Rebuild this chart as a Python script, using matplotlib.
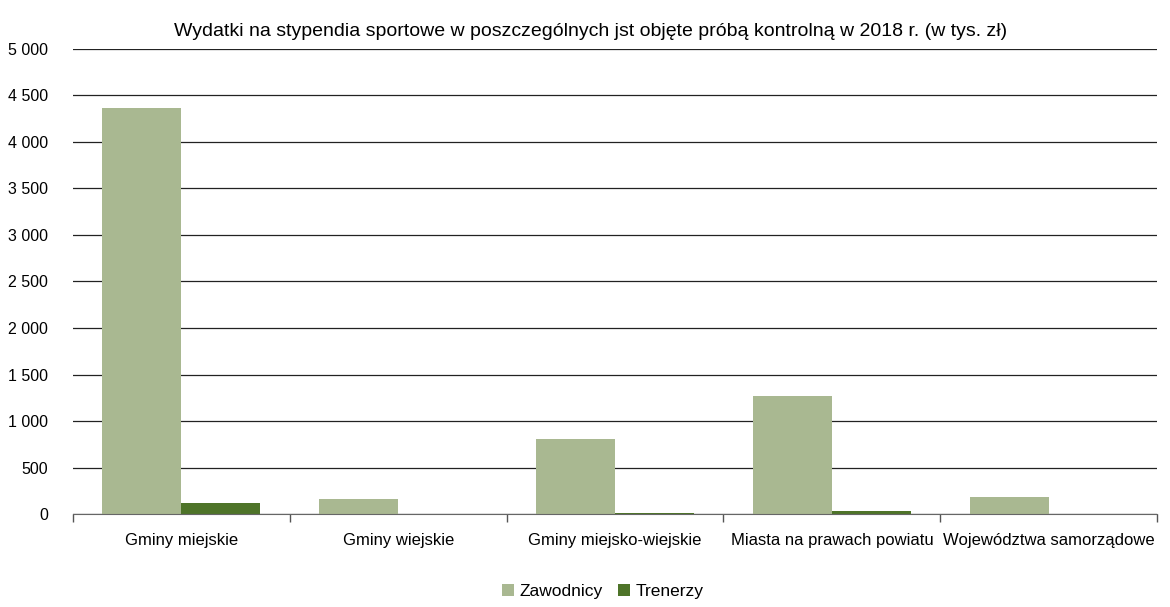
import numpy as np
import matplotlib
matplotlib.use("Agg")
import matplotlib.pyplot as plt
from matplotlib.ticker import FuncFormatter

plt.rcParams['font.family'] = ['Liberation Sans', 'DejaVu Sans']

# dane (tys. zł)
kategorie = ['Gminy miejskie', 'Gminy wiejskie', 'Gminy miejsko-wiejskie',
             'Miasta na prawach powiatu', 'Województwa samorządowe']
zawodnicy = [4370, 160, 810, 1270, 185]
trenerzy = [120, 0, 10, 30, 0]
tytul = 'Wydatki na stypendia sportowe w poszczególnych jst objęte próbą kontrolną w 2018 r. (w tys. zł)'

fig = plt.figure(figsize=(11.7, 6.07), dpi=100)
ax = fig.add_axes([0.0624, 0.1532, 0.9266, 0.7661])

x = np.arange(len(kategorie))
w = 0.364
ax.bar(x - w / 2, zawodnicy, w, color='#A9B891', label='Zawodnicy', zorder=3)
ax.bar(x + w / 2, trenerzy, w, color='#4E7429', label='Trenerzy', zorder=3)

ax.set_xlim(-0.5, len(kategorie) - 0.5)
ax.set_ylim(0, 5000)
ax.set_yticks(np.arange(0, 5001, 500))
ax.yaxis.set_major_formatter(FuncFormatter(lambda v, p: f'{int(v):,}'.replace(',', ' ')))
ax.yaxis.grid(True, color='#222222', linewidth=0.9, zorder=0)
ax.tick_params(axis='y', length=0, pad=18, labelsize=11.5)

ax.set_xticks(x)
ax.set_xticklabels(kategorie)
ax.set_xticks(np.arange(-0.5, len(kategorie)), minor=True)
ax.tick_params(axis='x', which='major', length=0, pad=14, labelsize=12)
ax.tick_params(axis='x', which='minor', length=6, color='#555555', width=1)

for s in ['left', 'right', 'top']:
    ax.spines[s].set_visible(False)
ax.spines['bottom'].set_color('#666666')
ax.spines['bottom'].set_zorder(4)

fig.text(0.505, 0.948, tytul, ha='center', va='center', fontsize=14)

fig.legend(loc='lower center', bbox_to_anchor=(0.515, -0.012), ncol=2, frameon=False,
           fontsize=12.5, handlelength=0.7, handleheight=0.7, handletextpad=0.3,
           columnspacing=0.9)

fig.savefig('out.png', dpi=100)
